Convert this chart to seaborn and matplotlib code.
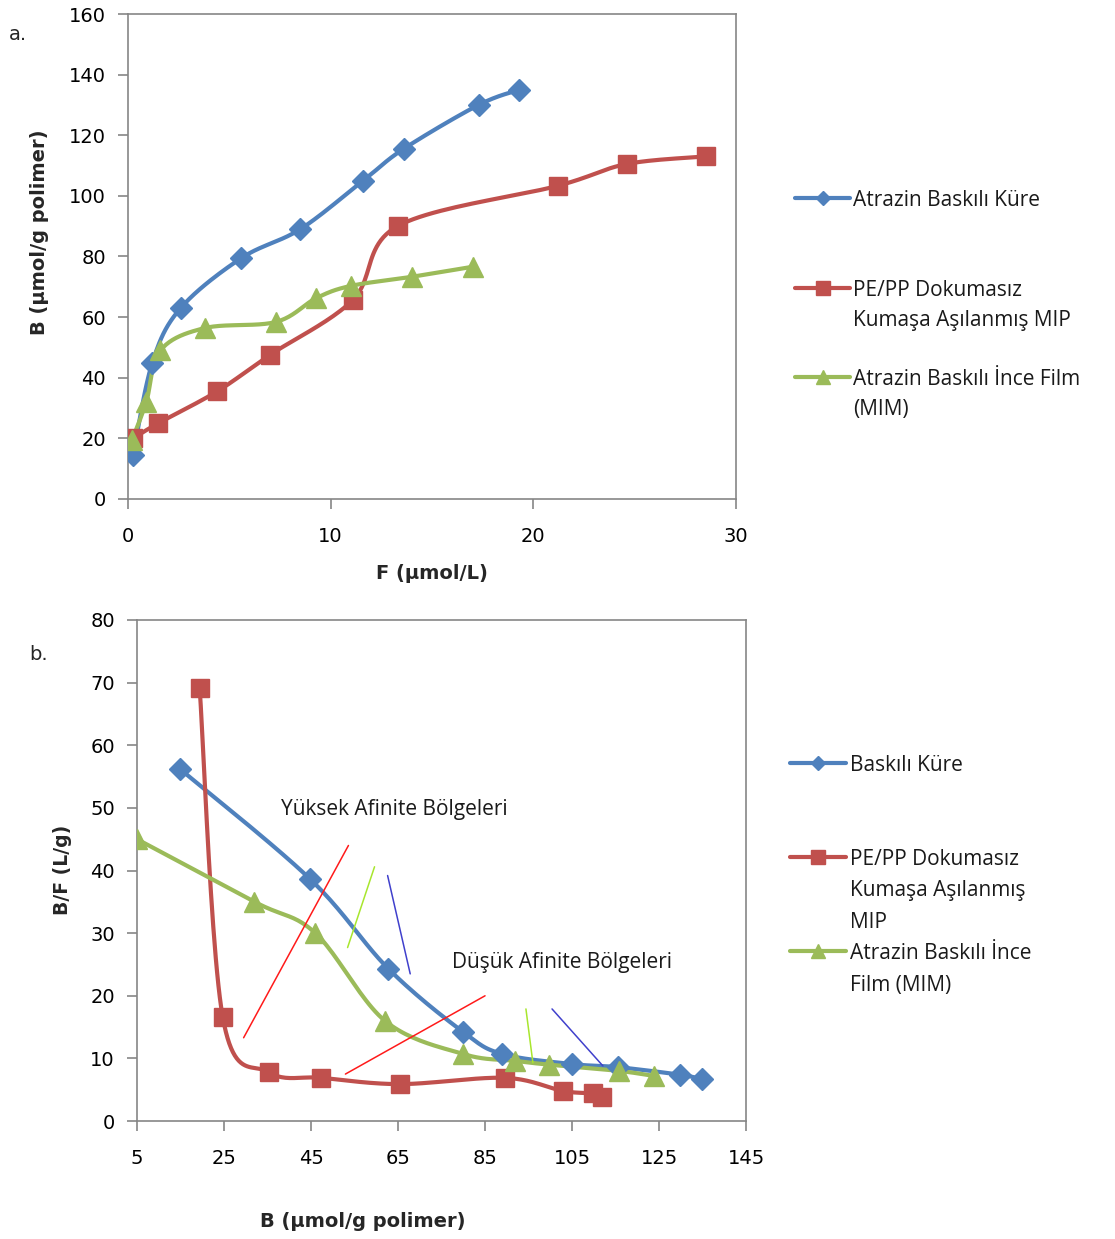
import numpy as np
import pandas as pd
import matplotlib
matplotlib.use("Agg")
import matplotlib.pyplot as plt
from matplotlib.lines import Line2D
import seaborn as sns

# ---- panel a: B vs F ----
kure_F = [0.25, 1.2, 2.6, 5.6, 8.5, 11.6, 13.6, 17.3, 19.3]
kure_B = [14.5, 45, 63, 79.5, 89, 105, 115.5, 130, 135]
mip_F = [0.25, 1.5, 4.4, 7.0, 11.1, 13.3, 21.2, 24.6, 28.5]
mip_B = [20, 25, 35.5, 47.5, 65.7, 90, 103.3, 110.5, 113]
film_F = [0.2, 0.9, 1.6, 3.8, 7.3, 9.3, 11.0, 14.0, 17.0]
film_B = [19.5, 32, 49, 56.4, 58.4, 66.3, 70.3, 73.3, 76.6]

# ---- panel b: Scatchard B/F vs B ----
kure_b = [14.9, 44.7, 62.8, 80, 89, 105, 115.6, 129.8, 134.8]
kure_bf = [56.2, 38.7, 24.3, 14.2, 10.7, 9.1, 8.6, 7.4, 6.7]
mip_b = [19.4, 24.7, 35.3, 47.4, 65.5, 89.6, 102.9, 109.8, 111.9]
mip_bf = [69.1, 16.6, 7.8, 6.9, 5.9, 6.9, 4.8, 4.4, 3.8]
film_b = [5, 32, 46, 62, 80, 92, 99.8, 115.8, 123.8]
film_bf = [45, 35, 30, 16, 10.7, 9.6, 9, 8, 7.2]

labels_a = ["Atrazin Baskılı Küre",
            "PE/PP Dokumasız\nKumaşa Aşılanmış MIP",
            "Atrazin Baskılı İnce Film\n(MIM)"]
labels_b = ["Baskılı Küre",
            "PE/PP Dokumasız\nKumaşa Aşılanmış\nMIP",
            "Atrazin Baskılı İnce\nFilm (MIM)"]

# hand-drawn region guide lines in panel b (x pair, y pair, colour)
guide_lines = [
    ([29.5, 53.6], [13.3, 44.0], "#FF1A1A"),
    ([53.4, 59.6], [27.7, 40.6], "#A8E62E"),
    ([62.6, 67.8], [39.2, 23.5], "#4040CC"),
    ([52.9, 85.0], [7.5, 20.0], "#FF1A1A"),
    ([94.4, 96.0], [17.9, 9.3], "#A8E62E"),
    ([100.4, 112.1], [17.9, 8.8], "#4040CC"),
]

BLUE, RED, GREEN = "#4F81BD", "#C0504D", "#9BBB59"
SPINE = "#868686"
W, H = 1115, 1239

sns.set_style("white")
plt.rcParams["font.family"] = ["DejaVu Sans"]


def smooth(x, y, n=24):
    # Excel-style smoothed line (Catmull-Rom / Bezier)
    p = np.column_stack([np.asarray(x, float), np.asarray(y, float)])
    out = [p[0]]
    for i in range(len(p) - 1):
        p0 = p[i - 1] if i > 0 else p[i]
        p3 = p[i + 2] if i + 2 < len(p) else p[i + 1]
        c1 = p[i] + (p[i + 1] - p0) / 6
        c2 = p[i + 1] - (p3 - p[i]) / 6
        t = np.linspace(0, 1, n)[1:, None]
        seg = ((1 - t) ** 3) * p[i] + 3 * ((1 - t) ** 2) * t * c1 \
            + 3 * (1 - t) * t ** 2 * c2 + t ** 3 * p[i + 1]
        out.extend(seg)
    out = np.array(out)
    return out[:, 0], out[:, 1]


def draw_series(ax, x, y, color, marker, ms):
    sx, sy = smooth(x, y)
    curve = pd.DataFrame({"x": sx, "y": sy})
    sns.lineplot(data=curve, x="x", y="y", sort=False, estimator=None,
                 color=color, linewidth=3, ax=ax)
    pts = pd.DataFrame({"x": x, "y": y})
    ax.plot(pts["x"], pts["y"], linestyle="none", marker=marker,
            markersize=ms, color=color, markeredgecolor=color, zorder=3)


def style_axes(ax):
    for s in ax.spines.values():
        s.set_color(SPINE)
        s.set_linewidth(1.2)
    ax.tick_params(axis="both", which="major", direction="out", length=7,
                   width=1.2, color=SPINE, labelsize=14, labelcolor="black",
                   left=True, bottom=True)
    ax.tick_params(axis="y", pad=9)
    ax.tick_params(axis="x", pad=13)
    ax.set_xlabel("")
    ax.set_ylabel("")


def px(x, y):
    return x / W, 1 - y / H


def legend_entry(x_line, x_text, line_ys, label, color, marker, ms):
    # Excel-like legend entry: handle on the first text line
    x0, y0 = px(x_line[0], line_ys[0])
    x1, _ = px(x_line[1], line_ys[0])
    fig.add_artist(Line2D([x0, x1], [y0, y0], color=color, lw=3,
                          transform=fig.transFigure))
    fig.add_artist(Line2D([(x0 + x1) / 2], [y0], color=color, marker=marker,
                          ms=ms, transform=fig.transFigure))
    for line, ly in zip(label.split("\n"), line_ys):
        tx, ty = px(x_text, ly)
        fig.text(tx, ty, line, ha="left", va="center_baseline",
                 family="Open Sans", fontsize=15, color="#1a1a1a")


fig = plt.figure(figsize=(W / 100, H / 100), dpi=100)

# ---------- panel a ----------
ax1 = fig.add_axes([0.1148, 0.5973, 0.5453, 0.3914])
draw_series(ax1, kure_F, kure_B, BLUE, "D", 11)
draw_series(ax1, mip_F, mip_B, RED, "s", 13)
draw_series(ax1, film_F, film_B, GREEN, "^", 14)
ax1.set_xlim(0, 30)
ax1.set_ylim(0, 160)
ax1.set_xticks(np.arange(0, 31, 10))
ax1.set_yticks(np.arange(0, 161, 20))
style_axes(ax1)
fig.text(0.035, 0.8125, "B (µmol/g polimer)", rotation=90, ha="center",
         va="center", fontsize=14, fontweight="bold")
fig.text(0.3875, 0.537, "F (µmol/L)", ha="center", va="center",
         fontsize=14, fontweight="bold")
fig.text(0.008, 0.972, "a.", ha="left", va="center", fontsize=14)

legend_entry((795, 850), 853, [198], labels_a[0], BLUE, "D", 7)
legend_entry((795, 850), 853, [288, 318], labels_a[1], RED, "s", 10)
legend_entry((795, 850), 853, [377, 407], labels_a[2], GREEN, "^", 10)

# ---------- panel b ----------
ax2 = fig.add_axes([0.1229, 0.0952, 0.5462, 0.4044])
for gx, gy, gc in guide_lines:
    ax2.plot(gx, gy, color=gc, linewidth=1.1, zorder=4)
draw_series(ax2, kure_b, kure_bf, BLUE, "D", 11)
draw_series(ax2, mip_b, mip_bf, RED, "s", 13)
draw_series(ax2, film_b, film_bf, GREEN, "^", 14)
ax2.set_xlim(5, 145)
ax2.set_ylim(0, 80)
ax2.set_xticks(np.arange(5, 146, 20))
ax2.set_yticks(np.arange(0, 81, 10))
style_axes(ax2)
ax2.text(38, 49.8, "Yüksek Afinite Bölgeleri", ha="left", va="center",
         fontsize=15, family="Open Sans", color="#1a1a1a")
ax2.text(77.5, 25.3, "Düşük Afinite Bölgeleri", ha="left", va="center",
         fontsize=15, family="Open Sans", color="#1a1a1a")
fig.text(0.056, 0.298, "B/F (L/g)", rotation=90, ha="center",
         va="center", fontsize=13.5, fontweight="bold")
fig.text(0.325, 0.0145, "B (µmol/g polimer)", ha="center", va="center",
         fontsize=14, fontweight="bold")
fig.text(0.026, 0.472, "b.", ha="left", va="center", fontsize=14)

legend_entry((790, 846), 850, [763], labels_b[0], BLUE, "D", 7)
legend_entry((790, 846), 850, [857, 888, 920], labels_b[1], RED, "s", 10)
legend_entry((790, 846), 850, [951, 983], labels_b[2], GREEN, "^", 10)

fig.savefig("out.png", dpi=100)
